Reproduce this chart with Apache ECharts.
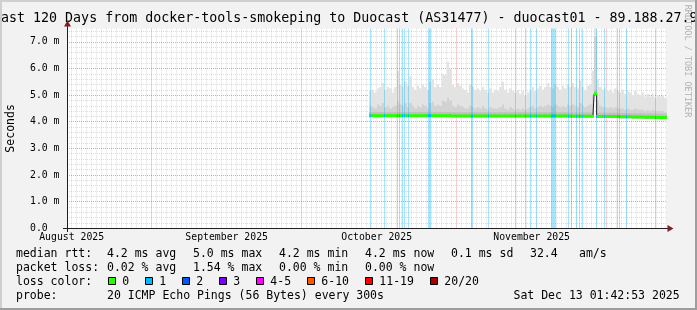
<!DOCTYPE html>
<html><head><meta charset="utf-8">
<script src="https://cdn.jsdelivr.net/npm/echarts@6/dist/echarts.min.js"></script>
<style>html,body{margin:0;padding:0;background:#f2f2f2;}#c{width:697px;height:310px;}</style>
</head><body><div id="c"></div>
<script>
// ---------------- data ----------------
// time unit: days since 2025-08-15 00:00
const chartStartDay = 0.0715;          // Aug 15 2025 01:42:53
const chartEndDay = 120.0715;          // Dec 13 2025 01:42:53
const monthStartDays = [17, 47, 78, 108];          // Sep 1, Oct 1, Nov 1, Dec 1
const monthLabelDays = [1, 32, 62, 93];
const monthLabels = ['August 2025', 'September 2025', 'October 2025', 'November 2025'];
const yTickValues = [0, 1, 2, 3, 4, 5, 6, 7];
const yMax = 7.5;

const sampleStartDay = 60.75;
const sampleStepDays = 0.5;
const smokeMax = [
  5.15,5.2,5.1,5.25,5.3,5.45,5.2,5.3,5.25,5.1,
  5.3,5.9,5.4,5.3,5.5,5.35,5.7,5.3,5.2,5.35,
  5.25,5.4,5.3,5.2,5.5,5.6,5.3,5.4,5.3,5.8,
  5.75,6.25,6.0,5.4,5.3,5.45,5.35,5.25,5.2,5.1,
  5.4,5.3,5.2,5.25,5.15,5.3,5.2,5.1,5.25,5.1,
  5.2,5.15,5.3,5.5,5.2,5.1,5.25,5.15,5.1,5.2,
  5.05,5.15,5.0,5.1,5.2,5.3,5.15,5.25,5.35,5.2,
  5.3,5.45,5.3,5.25,5.4,5.3,5.2,5.35,5.25,5.4,
  5.3,5.45,5.3,5.25,5.55,5.3,5.2,5.35,5.4,5.9,
  7.6,5.6,5.3,5.2,5.25,5.15,5.2,5.1,5.25,5.15,
  5.1,5.2,5.05,5.15,5.1,5.0,5.15,5.05,5.0,5.1,
  4.95,5.05,4.95,5.05,4.9,5.0,4.95,5.0,4.9
];
const smokeMid = [
  4.6,4.55,4.5,4.65,4.6,4.7,4.55,4.6,4.5,4.55,
  4.6,4.75,4.65,4.6,4.7,4.55,4.7,4.6,4.5,4.6,
  4.55,4.65,4.6,4.5,4.7,4.75,4.6,4.65,4.6,4.8,
  4.75,4.9,4.8,4.6,4.55,4.65,4.6,4.55,4.5,4.5,
  4.6,4.55,4.5,4.55,4.5,4.6,4.5,4.45,4.55,4.5,
  4.5,4.5,4.55,4.65,4.5,4.45,4.55,4.5,4.45,4.5,
  4.45,4.5,4.45,4.5,4.55,4.6,4.5,4.55,4.6,4.55,
  4.6,4.65,4.6,4.55,4.65,4.6,4.55,4.6,4.55,4.65,
  4.6,4.65,4.6,4.55,4.7,4.6,4.55,4.6,4.65,5.0,
  7.2,4.8,4.6,4.55,4.55,4.5,4.55,4.5,4.55,4.5,
  4.5,4.5,4.45,4.5,4.45,4.45,4.5,4.45,4.45,4.45,
  4.4,4.45,4.4,4.45,4.4,4.4,4.4,4.4,4.35
];
const medianRtt = [
  4.23,4.23,4.23,4.23,4.23,4.23,4.23,4.23,4.23,4.23,
  4.23,4.23,4.23,4.23,4.23,4.23,4.23,4.23,4.23,4.23,
  4.23,4.23,4.23,4.23,4.23,4.23,4.23,4.23,4.23,4.23,
  4.23,4.23,4.23,4.22,4.22,4.22,4.22,4.22,4.22,4.22,
  4.22,4.22,4.22,4.22,4.22,4.22,4.22,4.22,4.22,4.22,
  4.22,4.22,4.22,4.22,4.22,4.22,4.22,4.22,4.22,4.22,
  4.22,4.22,4.22,4.22,4.22,4.22,4.22,4.22,4.22,4.22,
  4.22,4.22,4.22,4.22,4.22,4.22,4.22,4.22,4.22,4.22,
  4.21,4.21,4.21,4.21,4.21,4.21,4.21,4.21,4.21,4.21,
  5.05,4.2,4.2,4.2,4.2,4.2,4.2,4.2,4.2,4.2,
  4.19,4.19,4.19,4.19,4.19,4.18,4.18,4.18,4.18,4.18,
  4.17,4.17,4.17,4.17,4.16,4.16,4.16,4.16,4.16
];
// loss events (1/20 lost): [day, duration in days]
const lossEvents = [
  [60.87,0.2],[63.67,0.2],[66.21,0.2],[66.67,0.2],[67.13,0.2],[67.67,0.2],[68.47,0.2],
  [72.57,0.6],[81.13,0.4],[84.33,0.2],[89.81,0.2],[91.87,0.2],[92.77,0.2],[94.07,0.2],
  [97.21,0.8],[97.87,0.2],[100.33,0.2],[101.01,0.2],[102.01,0.2],[102.53,0.2],[103.21,0.2],
  [106.01,0.2],[107.67,0.2],[110.21,0.2],[110.67,0.2],[112.01,0.2],[117.87,0.2]
];

const titleText = 'Last 120 Days from docker-tools-smokeping to Duocast (AS31477) - duocast01 - 89.188.27.9';
const rttStats = ['4.2 ms avg', '5.0 ms max', '4.2 ms min', '4.2 ms now', '0.1 ms sd', '32.4', 'am/s'];
const lossStats = ['0.02 % avg', '1.54 % max', '0.00 % min', '0.00 % now'];
const lossColorLabels = ['0', '1', '2', '3', '4-5', '6-10', '11-19', '20/20'];
const lossColors = ['#26ff00', '#00b8ff', '#0059ff', '#7e00ff', '#ff00ff', '#ff5500', '#ff0000', '#a10000'];
const probeText = '20 ICMP Echo Pings (56 Bytes) every 300s';
const dateText = 'Sat Dec 13 01:42:53 2025';

// ---------------- chart ----------------
const mono = 'DejaVu Sans Mono';
const chart = echarts.init(document.getElementById('c'));

const minorX = []; for (let d = 1; d <= 120; d++) if (monthStartDays.indexOf(d) < 0) minorX.push(d);
const minorY = []; for (let k = 1; k < 38; k++) if (k % 5 !== 0) minorY.push(+(k * 0.2).toFixed(1));

const smokeData = smokeMax.map((mx, i) => [sampleStartDay + i * sampleStepDays, medianRtt[i], smokeMid[i], mx]);
const medianData = medianRtt.map((m, i) => [sampleStartDay + i * sampleStepDays, m]);
function medianAt(d) {
  const i = Math.max(0, Math.min(medianRtt.length - 1, Math.round((d - sampleStartDay) / sampleStepDays)));
  return medianRtt[i];
}
const lossMedianData = lossEvents.map(e => [e[0], e[1], medianAt(e[0])]);

function px(api, d) { return Math.round(api.coord([d, 0])[0]); }

function renderSmoke(params, api) {
  const cs = params.coordSys;
  const d = api.value(0), med = api.value(1), mid = api.value(2), mx = api.value(3);
  const xl = px(api, d - sampleStepDays / 2), xr = px(api, d + sampleStepDays / 2);
  const cl = y => Math.max(cs.y, y);
  const yb = api.coord([d, med - 0.06])[1];
  const yMx = cl(api.coord([d, mx])[1]);
  const yMd = cl(api.coord([d, mid])[1]);
  const yDk = cl(api.coord([d, Math.min(mid, med + 0.14)])[1]);
  return { type: 'group', children: [
    { type: 'rect', shape: { x: xl, y: yMx, width: xr - xl, height: yb - yMx }, style: { fill: '#e3e3e3' } },
    { type: 'rect', shape: { x: xl, y: yMd, width: xr - xl, height: yb - yMd }, style: { fill: '#d2d2d2' } },
    { type: 'rect', shape: { x: xl, y: yDk, width: xr - xl, height: yb - yDk }, style: { fill: '#c0c0c0' } }
  ]};
}
function renderLoss(params, api) {
  const cs = params.coordSys;
  const d = api.value(0), w = api.value(1);
  const xl = px(api, d - w / 2);
  const xr = Math.max(xl + 1, px(api, d + w / 2));
  return { type: 'rect', shape: { x: xl, y: cs.y, width: xr - xl, height: cs.height }, style: { fill: 'rgba(0,184,255,0.36)' } };
}
function renderBand(params, api) {
  const d = api.value(0), m = api.value(1);
  const xl = px(api, d - sampleStepDays / 2), xr = px(api, d + sampleStepDays / 2);
  const y1 = api.coord([d, m + 0.055])[1], y2 = api.coord([d, m - 0.055])[1];
  return { type: 'rect', shape: { x: xl, y: y1, width: xr - xl, height: y2 - y1 }, style: { fill: lossColors[0] } };
}
function renderLossMedian(params, api) {
  const d = api.value(0), w = api.value(1), m = api.value(2);
  const xl = px(api, d - w / 2);
  const xr = Math.max(xl + 1, px(api, d + w / 2));
  const y1 = api.coord([d, m + 0.055])[1], y2 = api.coord([d, m - 0.055])[1];
  return { type: 'rect', shape: { x: xl, y: y1, width: xr - xl, height: y2 - y1 }, style: { fill: lossColors[1] } };
}

const gridColor = 'rgba(143,143,143,0.3)';
const mgridColor = 'rgba(222,79,79,0.55)';

const texts = [];
function addText(x, y, t, size, extra) {
  texts.push(Object.assign({ type: 'text', x: x, y: y, z: 100,
    style: { text: t, fontFamily: mono, fontSize: size, fill: '#000', verticalAlign: 'middle', align: 'left' } }, extra || {}));
}
const colX = [107, 193, 279, 365, 451, 530, 579];
const rowY = [254.2, 268.2, 282.2, 296.5];
addText(16, rowY[0], 'median rtt:', 11.5);
rttStats.forEach((s, i) => addText(colX[i], rowY[0], s, 11.5));
addText(16, rowY[1], 'packet loss:', 11.5);
lossStats.forEach((s, i) => addText(colX[i], rowY[1], s, 11.5));
addText(16, rowY[2], 'loss color:', 11.5);
const boxX = [108, 145, 182, 219, 256, 307, 365, 430];
lossColorLabels.forEach((s, i) => {
  texts.push({ type: 'rect', z: 100, shape: { x: boxX[i] + 0.5, y: 277.5, width: 7, height: 7 }, style: { fill: lossColors[i], stroke: '#000', lineWidth: 1 } });
  addText(boxX[i] + 14.3, rowY[2], s, 11.5);
});
addText(16, rowY[3], 'probe:', 11.5);
addText(107, rowY[3], probeText, 11.5);
addText(513.5, rowY[3], dateText, 11.5);
// title
texts.push({ type: 'text', x: 345.3, y: 18.5, z: 100, style: { text: titleText, fontFamily: mono, fontSize: 13.3, fill: '#000', align: 'center', verticalAlign: 'middle' } });
// watermark
texts.push({ type: 'text', x: 687, y: 61, rotation: -Math.PI / 2, z: 100, style: { text: 'RRDTOOL / TOBI OETIKER', fontFamily: mono, fontSize: 8.5, fill: 'rgba(0,0,0,0.28)', align: 'center', verticalAlign: 'middle' } });
// borders
texts.push({ type: 'rect', z: 200, shape: { x: 0, y: 0, width: 697, height: 2 }, style: { fill: '#cfcfcf' } });
texts.push({ type: 'rect', z: 200, shape: { x: 0, y: 0, width: 2, height: 310 }, style: { fill: '#cfcfcf' } });
texts.push({ type: 'rect', z: 200, shape: { x: 0, y: 308, width: 697, height: 2 }, style: { fill: '#9e9e9e' } });
texts.push({ type: 'rect', z: 200, shape: { x: 695, y: 0, width: 2, height: 310 }, style: { fill: '#9e9e9e' } });
// axis lines and arrows
texts.push({ type: 'line', z: 150, shape: { x1: 63, y1: 228.5, x2: 668, y2: 228.5 }, style: { stroke: '#1f1f1f', lineWidth: 1 } });
texts.push({ type: 'line', z: 150, shape: { x1: 67.5, y1: 232, x2: 67.5, y2: 25 }, style: { stroke: '#1f1f1f', lineWidth: 1 } });
texts.push({ type: 'polygon', z: 151, shape: { points: [[667.5, 225], [673.5, 228.5], [667.5, 232]] }, style: { fill: '#801f1f' } });
texts.push({ type: 'polygon', z: 151, shape: { points: [[64, 26.5], [67.5, 20.5], [71, 26.5]] }, style: { fill: '#801f1f' } });

const option = {
  animation: false,
  backgroundColor: '#f2f2f2',
  grid: { left: 67, top: 28.5, width: 600, height: 199.8, show: true, backgroundColor: '#ffffff', borderWidth: 0,
    outerBoundsMode: 'none', containLabel: false },
  xAxis: [
    { type: 'value', min: chartStartDay, max: chartEndDay, position: 'bottom',
      axisLine: { show: false },
      axisTick: { show: false, customValues: monthLabelDays },
      splitLine: { show: false },
      axisLabel: { customValues: monthLabelDays, margin: 4, fontFamily: mono, fontSize: 9.8, color: '#000',
        formatter: v => monthLabels[monthLabelDays.indexOf(Math.round(v))] || '' } },
    { type: 'value', min: chartStartDay, max: chartEndDay, position: 'bottom',
      axisLine: { show: false }, axisLabel: { show: false },
      axisTick: { show: false, customValues: minorX },
      splitLine: { show: true, lineStyle: { color: gridColor, type: [1, 1], width: 1 } } },
    { type: 'value', min: chartStartDay, max: chartEndDay, position: 'bottom',
      axisLine: { show: false }, axisLabel: { show: false },
      axisTick: { show: false, customValues: monthStartDays },
      splitLine: { show: true, lineStyle: { color: mgridColor, type: [1, 1], width: 1 } } }
  ],
  yAxis: [
    { type: 'value', min: 0, max: yMax, position: 'left',
      name: 'Seconds', nameLocation: 'middle', nameGap: 50, nameRotate: 90,
      nameTextStyle: { fontFamily: mono, fontSize: 11.5, color: '#000' },
      axisLine: { show: false },
      axisTick: { show: false, customValues: yTickValues },
      splitLine: { show: true, lineStyle: { color: mgridColor, type: [1, 1], width: 1 } },
      axisLabel: { customValues: yTickValues, margin: 37, align: 'left', fontFamily: mono, fontSize: 9.8, color: '#000',
        formatter: v => v === 0 ? '0.0' : v.toFixed(1) + ' m' } },
    { type: 'value', min: 0, max: yMax, position: 'left',
      axisLine: { show: false }, axisLabel: { show: false },
      axisTick: { show: false, customValues: minorY },
      splitLine: { show: true, lineStyle: { color: gridColor, type: [1, 1], width: 1 } } }
  ],
  series: [
    { type: 'custom', name: 'smoke', xAxisIndex: 0, yAxisIndex: 0, z: 2, renderItem: renderSmoke,
      encode: { x: 0, y: 3 }, data: smokeData },
    { type: 'custom', name: 'loss', xAxisIndex: 0, yAxisIndex: 0, z: 3, renderItem: renderLoss,
      encode: { x: 0, y: 1 }, data: lossEvents },
    { type: 'line', name: 'median', xAxisIndex: 0, yAxisIndex: 0, z: 4, step: 'middle', symbol: 'none',
      lineStyle: { color: '#202020', width: 1 }, data: medianData },
    { type: 'custom', name: 'band', xAxisIndex: 0, yAxisIndex: 0, z: 5, renderItem: renderBand,
      encode: { x: 0, y: 1 }, data: medianData },
    { type: 'custom', name: 'bandLoss', xAxisIndex: 0, yAxisIndex: 0, z: 6, renderItem: renderLossMedian,
      encode: { x: 0, y: 2 }, data: lossMedianData }
  ],
  graphic: texts
};
chart.setOption(option);
</script></body></html>
